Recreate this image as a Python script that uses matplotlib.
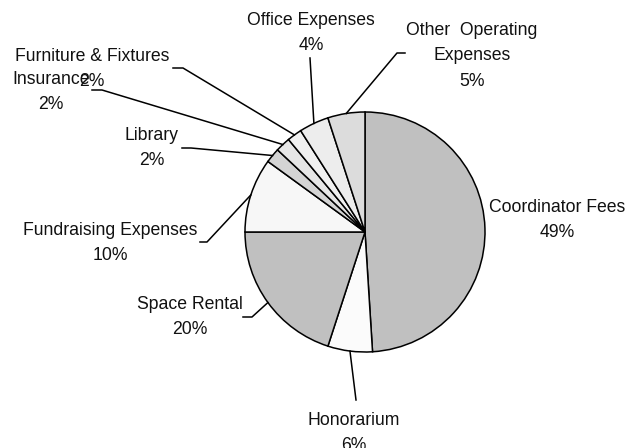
import matplotlib
matplotlib.use('Agg')
import matplotlib.pyplot as plt
import numpy as np

plt.rcParams['font.family'] = ['Liberation Sans', 'DejaVu Sans']

# data, clockwise from 12 o'clock
labels = ['Coordinator Fees', 'Honorarium', 'Space Rental', 'Fundraising Expenses',
          'Library', 'Insurance', 'Furniture & Fixtures', 'Office Expenses',
          'Other  Operating\nExpenses']
values = [49, 6, 20, 10, 2, 2, 2, 4, 5]
pct_text = ['49%', '6%', '20%', '10%', '2%', '2%', '2%', '4%', '5%']
colors = ['#c0c0c0', '#fbfbfb', '#c0c0c0', '#f7f7f7', '#d4d4d4',
          '#e6e6e6', '#f1f1f1', '#ededed', '#dcdcdc']

# layout in pixels (y down): label centre, leader points from text side
text_pos = [(557, 220), (354, 433), (190, 317), (110, 243), (152, 148),
            (51, 92), (92, 69), (311, 33), (472, 56)]
leaders = [None, [(356, 400)], [(243, 317), (252, 317)], [(200, 242), (207, 242)],
           [(182, 148), (191, 148)], [(92, 90), (102, 90)], [(173, 68), (183, 68)],
           [(310, 58)], [(405, 53), (397, 53)]]

cx, cy, r = 365, 232, 120

fig = plt.figure(figsize=(6.28, 4.48), dpi=100)
ax = fig.add_axes([0, 0, 1, 1])

# y axis is flipped below, so -90 / counterclock gives 12 o'clock, clockwise on screen
wedges, _ = ax.pie(values, colors=colors, startangle=-90, counterclock=True,
                   center=(cx, cy), radius=r,
                   wedgeprops=dict(edgecolor='black', linewidth=1.1))

for w, lab, pct, pos, lead in zip(wedges, labels, pct_text, text_pos, leaders):
    ax.text(pos[0], pos[1], lab + '\n' + pct, ha='center', va='center',
            fontsize=12.7, color='#111111', linespacing=1.62)
    if lead is None:
        continue
    mid = np.deg2rad((w.theta1 + w.theta2) / 2)
    ax_pt = (cx + r * np.cos(mid), cy + r * np.sin(mid))
    pts = lead + [ax_pt]
    ax.plot([p[0] for p in pts], [p[1] for p in pts], color='black', lw=1.1)

ax.set_xlim(0, 628)
ax.set_ylim(448, 0)
ax.set_aspect('auto')
ax.axis('off')

fig.savefig('out.png', dpi=100)
